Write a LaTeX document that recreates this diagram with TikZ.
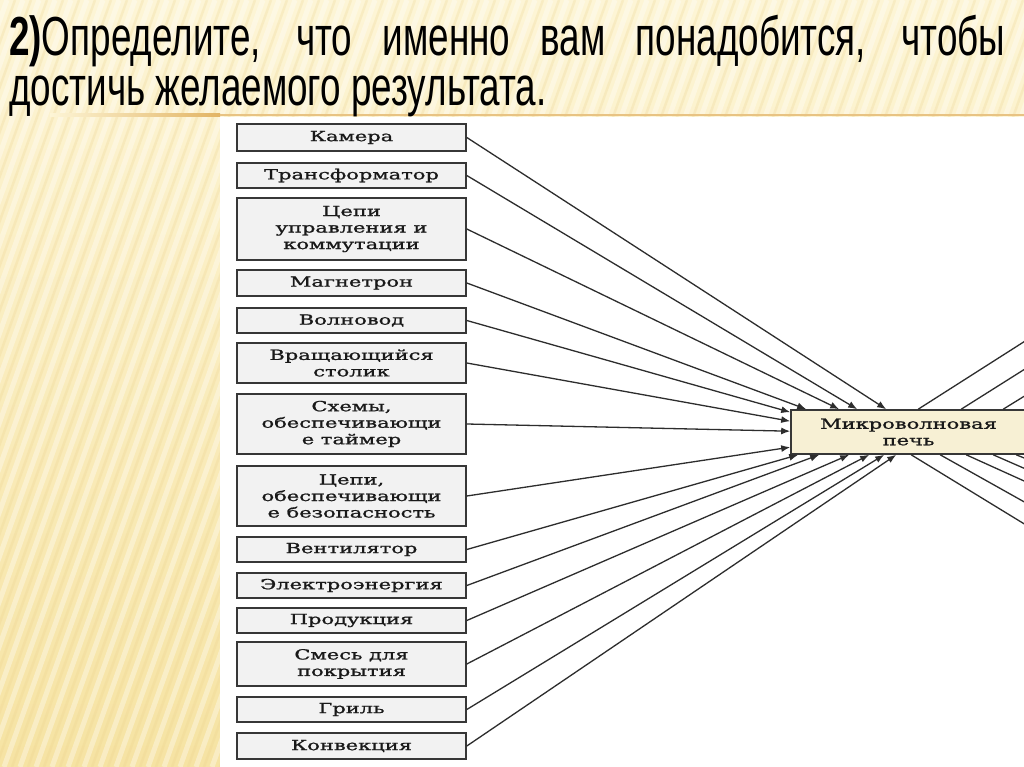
\documentclass[tikz,border=0pt]{standalone}
\usepackage{fontspec}
\setmainfont{Liberation Sans}
\newfontfamily\titlefont[FakeStretch=0.67]{Liberation Sans}
\newfontfamily\boxfont[FakeStretch=1.5,FakeBold=1.2]{DejaVu Serif}
\usetikzlibrary{arrows.meta,calc}
\definecolor{bgtop}{RGB}{253,245,214}
\definecolor{bgbot}{RGB}{246,227,163}
\definecolor{stripe}{RGB}{236,210,140}
\definecolor{rule}{RGB}{226,180,100}
\definecolor{boxfill}{RGB}{242,242,242}
\definecolor{boxline}{RGB}{55,55,55}
\definecolor{mainfill}{RGB}{247,240,212}
\definecolor{conn}{RGB}{45,45,45}
\tikzset{
  partbox/.style={draw=boxline, line width=1.6pt, fill=boxfill, minimum width=229pt,
    inner sep=0pt, align=center, text=black!90,
    font=\boxfont\fontsize{14}{16.5}\selectfont},
  mainbox/.style={draw=boxline, line width=1.6pt, fill=mainfill, minimum width=235pt,
    minimum height=44pt, inner sep=0pt, align=center, text=black!90,
    font=\boxfont\fontsize{14}{16.5}\selectfont},
  feed/.style={draw=conn, line width=1.3pt, -{Latex[length=9pt,width=7pt]}},
  outline/.style={draw=conn, line width=1.3pt},
  titletext/.style={anchor=base west, inner sep=0pt, text=black, align=left,
    font=\titlefont\fontsize{55}{50}\selectfont}
}
\begin{document}
\begin{tikzpicture}[x=1pt,y=-1pt]
\useasboundingbox (0,0) rectangle (1024,767);
\clip (0,0) rectangle (1024,767);
% slide background
\shade[top color=bgtop, bottom color=bgbot] (0,0) rectangle (1024,767);
\foreach \i in {0,...,85} {
  \draw[white, opacity=.35, line width=5pt] ({-300+\i*16},767) -- ({-25+\i*16},0);
  \draw[stripe, opacity=.25, line width=2.5pt] ({-292+\i*16},767) -- ({-17+\i*16},0);
}
% white panel and rule
\fill[white] (220,117) rectangle (1024,767);
\shade[left color=bgtop, right color=rule] (50,114) rectangle (220,117);
\fill[rule!80!white] (220,114.5) rectangle (1024,116.5);
% title (base anchor is the baseline of the last line)
\node[titletext] (title) at (9,106) {\makebox[996pt][s]{\textbf{2)}Определите, что именно вам понадобится, чтобы}\\достичь желаемого результата.};
% component boxes
\node[partbox, minimum height=27pt] (kam) at (351.5,137.5) {Камера};
\node[partbox, minimum height=25pt] (tra) at (351.5,175.5) {Трансформатор};
\node[partbox, minimum height=62pt] (cep) at (351.5,229) {Цепи\\управления и\\коммутации};
\node[partbox, minimum height=26pt] (mag) at (351.5,283) {Магнетрон};
\node[partbox, minimum height=25pt] (vol) at (351.5,320.5) {Волновод};
\node[partbox, minimum height=40pt] (vra) at (351.5,363) {Вращающийся\\столик};
\node[partbox, minimum height=60pt] (sxe) at (351.5,424) {Схемы,\\обеспечивающи\\е таймер};
\node[partbox, minimum height=60pt] (bez) at (351.5,496) {Цепи,\\обеспечивающи\\е безопасность};
\node[partbox, minimum height=25pt] (ven) at (351.5,549.5) {Вентилятор};
\node[partbox, minimum height=25pt] (ele) at (351.5,585.5) {Электроэнергия};
\node[partbox, minimum height=25pt] (pro) at (351.5,620.5) {Продукция};
\node[partbox, minimum height=44pt] (sme) at (351.5,664) {Смесь для\\покрытия};
\node[partbox, minimum height=25pt] (gri) at (351.5,709.5) {Гриль};
\node[partbox, minimum height=26pt] (kon) at (351.5,746) {Конвекция};
% main box
\node[mainbox] (mw) at (908.5,432) {Микроволновая\\печь};
% incoming connectors
\draw[feed] (kam.east) -- ($(mw.north west)+(96,0)$);
\draw[feed] (tra.east) -- ($(mw.north west)+(67,0)$);
\draw[feed] (cep.east) -- ($(mw.north west)+(49,0)$);
\draw[feed] (mag.east) -- ($(mw.north west)+(16,0)$);
\draw[feed] (vol.east) -- ($(mw.north west)+(0,3)$);
\draw[feed] (vra.east) -- ($(mw.north west)+(0,12)$);
\draw[feed] (sxe.east) -- ($(mw.north west)+(0,22)$);
\draw[feed] (bez.east) -- ($(mw.north west)+(0,38)$);
\draw[feed] (ven.east) -- ($(mw.south west)+(8,0)$);
\draw[feed] (ele.east) -- ($(mw.south west)+(29,0)$);
\draw[feed] (pro.east) -- ($(mw.south west)+(59,0)$);
\draw[feed] (sme.east) -- ($(mw.south west)+(79,0)$);
\draw[feed] (gri.east) -- ($(mw.south west)+(94,0)$);
\draw[feed] (kon.east) -- ($(mw.south west)+(106,0)$);
% outgoing lines (cut by the slide edge)
\coordinate (u1) at (1044,329);
\coordinate (u2) at (1044,357);
\coordinate (u3) at (1044,384);
\coordinate (d1) at (1044,536);
\coordinate (d2) at (1044,513);
\coordinate (d3) at (1044,490);
\coordinate (d4) at (1044,477);
\coordinate (d5) at (1044,466);
\draw[outline] ($(mw.north west)+(128,0)$) -- (u1);
\draw[outline] ($(mw.north west)+(171,0)$) -- (u2);
\draw[outline] ($(mw.north west)+(213,0)$) -- (u3);
\draw[outline] ($(mw.south west)+(121,0)$) -- (d1);
\draw[outline] ($(mw.south west)+(150,0)$) -- (d2);
\draw[outline] ($(mw.south west)+(176,0)$) -- (d3);
\draw[outline] ($(mw.south west)+(203,0)$) -- (d4);
\draw[outline] ($(mw.south west)+(226,0)$) -- (d5);
\end{tikzpicture}
\end{document}
